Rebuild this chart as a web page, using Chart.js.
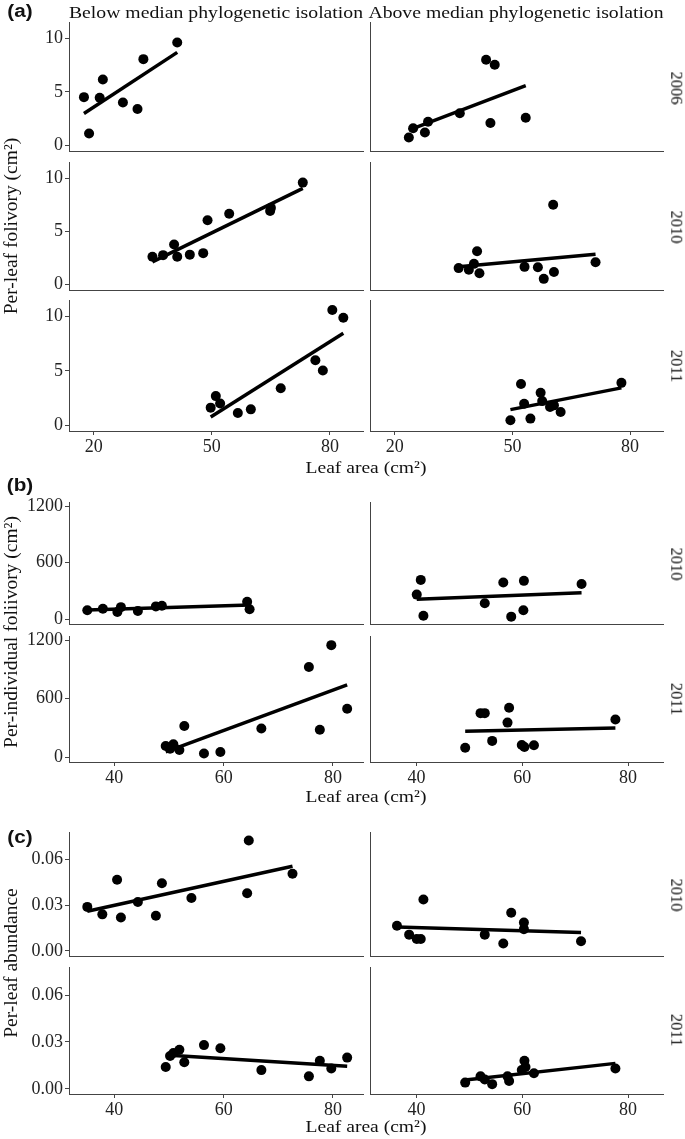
<!DOCTYPE html>
<html>
<head>
<meta charset="utf-8">
<script src="https://cdn.jsdelivr.net/npm/chart.js@4.4.1/dist/chart.umd.min.js"></script>
<style>
  html, body { margin: 0; padding: 0; background: #fff; }
  #fig { position: relative; width: 685px; height: 1139px; overflow: hidden;
         font-family: "Liberation Serif", "Times New Roman", serif; color: #111; }
  #fig canvas { position: absolute; }
  .txt { position: absolute; white-space: nowrap; line-height: 1; }
  .tag { font-family: "Liberation Sans", Arial, sans-serif; font-weight: bold; }
</style>
</head>
<body>
<div id="fig"></div>
<script>
// facet labels
const columns = ["Below median phylogenetic isolation", "Above median phylogenetic isolation"];
const yearsA = ["2006", "2010", "2011"];
const yearsBC = ["2010", "2011"];

// tick values / labels
const ticksAX = [20, 50, 80];
const ticksAY = [0, 5, 10];
const labelsAY = ["0", "5", "10"];
const ticksBCX = [40, 60, 80];
const ticksBY = [0, 600, 1200];
const labelsBY = ["0", "600", "1200"];
const ticksCY = [0, 0.03, 0.06];
const labelsCY = ["0.00", "0.03", "0.06"];

// (a) per-leaf folivory (cm²) against leaf area (cm²)
const a06LoArea = [17.5, 18.8, 21.5, 22.3, 27.4, 31.1, 32.6, 41.2];
const a06LoFol = [4.5, 1.1, 4.45, 6.15, 4.0, 3.4, 8.05, 9.6];
const a06HiArea = [23.6, 24.7, 27.7, 28.5, 36.6, 43.3, 44.4, 45.5, 53.4];
const a06HiFol = [0.73, 1.59, 1.19, 2.2, 3.0, 8.0, 2.08, 7.52, 2.57];
const a10LoArea = [34.9, 37.6, 40.4, 41.2, 44.4, 47.8, 48.9, 54.4, 64.8, 65.0, 73.1];
const a10LoFol = [2.6, 2.75, 3.76, 2.6, 2.8, 2.94, 6.03, 6.64, 6.9, 7.2, 9.58];
const a10HiArea = [36.3, 38.9, 40.2, 41.0, 41.6, 53.1, 56.5, 58.0, 60.4, 60.6, 71.2];
const a10HiFol = [1.53, 1.38, 1.93, 3.12, 1.04, 1.65, 1.62, 0.52, 7.5, 1.17, 2.08];
const a11LoArea = [49.7, 51.0, 52.1, 56.6, 59.9, 67.5, 76.3, 78.2, 80.6, 83.4];
const a11LoFol = [1.62, 2.68, 2.0, 1.13, 1.46, 3.4, 5.97, 5.03, 10.6, 9.88];
const a11HiArea = [49.5, 52.2, 53.0, 54.6, 57.2, 57.6, 59.6, 60.6, 62.3, 77.8];
const a11HiFol = [0.46, 3.8, 1.98, 0.61, 2.99, 2.22, 1.68, 1.83, 1.22, 3.9];

// (b) per-individual folivory (cm²)
const b10LoArea = [35.05, 37.9, 40.55, 41.2, 44.3, 47.6, 48.7, 64.3, 64.75];
const b10LoFol = [96, 112, 78, 129, 89, 137, 143, 187, 106];
const b10HiArea = [40.04, 40.8, 41.3, 52.9, 56.4, 57.9, 60.2, 60.3, 71.2];
const b10HiFol = [262, 418, 38, 170, 391, 28, 96, 408, 374];
const b11LoArea = [49.4, 50.2, 50.8, 51.9, 52.8, 56.4, 59.4, 66.9, 75.6, 77.6, 79.7, 82.6];
const b11LoFol = [115, 87, 132, 73, 320, 38, 52, 295, 926, 282, 1151, 498];
const b11HiArea = [49.2, 52.1, 52.9, 54.3, 57.2, 57.5, 59.9, 60.4, 62.2, 77.6];
const b11HiFol = [97, 452, 452, 167, 355, 508, 125, 104, 122, 386];

// (c) per-leaf abundance
const c10LoArea = [35.05, 37.8, 40.5, 41.2, 44.3, 47.6, 48.7, 54.1, 64.3, 64.6, 72.6];
const c10LoAbund = [0.0289, 0.024, 0.0467, 0.0219, 0.0321, 0.0231, 0.0444, 0.0347, 0.0379, 0.0724, 0.0506];
const c10HiArea = [36.3, 38.6, 40.04, 40.8, 41.3, 52.9, 56.4, 57.9, 60.3, 60.3, 71.1];
const c10HiAbund = [0.0165, 0.0107, 0.0079, 0.0079, 0.0338, 0.0107, 0.0049, 0.0251, 0.0186, 0.0143, 0.0064];
const c11LoArea = [49.4, 50.2, 50.8, 51.9, 52.8, 56.4, 59.4, 66.9, 75.6, 77.6, 79.7, 82.6];
const c11LoAbund = [0.014, 0.021, 0.023, 0.025, 0.017, 0.028, 0.026, 0.012, 0.008, 0.018, 0.013, 0.02];
const c11HiArea = [49.2, 52.1, 52.9, 54.3, 57.2, 57.5, 59.9, 60.4, 60.6, 62.2, 77.6];
const c11HiAbund = [0.004, 0.008, 0.006, 0.003, 0.008, 0.005, 0.012, 0.018, 0.014, 0.01, 0.013];

const fig = document.getElementById("fig");
const axisCol = "#444";
const tickCol = "#222";
const tickFont = { family: "'Liberation Serif', 'Times New Roman', serif", size: 18 };

// least squares fit, like geom_smooth(method = "lm")
function lsq(xs, ys) {
  const n = xs.length;
  const mx = xs.reduce((s, v) => s + v, 0) / n;
  const my = ys.reduce((s, v) => s + v, 0) / n;
  let sxy = 0, sxx = 0;
  xs.forEach((x, i) => { sxy += (x - mx) * (ys[i] - my); sxx += (x - mx) * (x - mx); });
  const b = sxy / sxx;
  return { a: my - b * mx, b };
}

function makePanel(p) {
  const padT = 8, padR = 6;
  const yW = p.yLabels ? 49 : 6;
  const xH = p.xLabels ? 30 : 2;
  const w = Math.round(p.r - p.l) + yW + padR;
  const h = Math.round(p.b - p.t) + padT + xH;
  const cv = document.createElement("canvas");
  cv.width = w; cv.height = h;
  cv.style.width = w + "px"; cv.style.height = h + "px";
  cv.style.left = (p.l - yW) + "px";
  cv.style.top = (p.t - padT) + "px";
  fig.appendChild(cv);

  const pts = p.xs.map((x, i) => ({ x, y: p.ys[i] }));
  const fit = lsq(p.xs, p.ys);
  const x0 = Math.min(...p.xs), x1 = Math.max(...p.xs);

  new Chart(cv.getContext("2d"), {
    type: "scatter",
    data: {
      datasets: [
        {
          data: [{ x: x0, y: fit.a + fit.b * x0 }, { x: x1, y: fit.a + fit.b * x1 }],
          showLine: true,
          borderColor: "#000",
          borderWidth: 3.5,
          pointRadius: 0,
          clip: false,
          order: 0,
        },
        {
          data: pts,
          backgroundColor: "#000",
          borderWidth: 0,
          pointRadius: 5,
          clip: false,
          order: 1,
        },
      ],
    },
    options: {
      responsive: false,
      animation: false,
      devicePixelRatio: 1,
      layout: { padding: { top: padT, right: padR, left: 0, bottom: 0 } },
      plugins: { legend: { display: false }, tooltip: { enabled: false } },
      events: [],
      scales: {
        x: {
          type: "linear",
          min: p.xMin,
          max: p.xMax,
          afterBuildTicks: (s) => { s.ticks = p.xTicks.map((v) => ({ value: v })); },
          afterFit: (s) => { s.height = xH; s.paddingLeft = 0; s.paddingRight = 0; },
          grid: { display: p.xLabels, drawOnChartArea: false, tickLength: 4, color: axisCol },
          border: { display: true, color: axisCol, width: 1 },
          ticks: {
            display: p.xLabels,
            font: tickFont,
            color: tickCol,
            padding: 1,
            maxRotation: 0,
            autoSkip: false,
            callback: (v) => String(v),
          },
        },
        y: {
          type: "linear",
          min: p.yMin,
          max: p.yMax,
          afterBuildTicks: (s) => { s.ticks = p.yTicks.map((v) => ({ value: v })); },
          afterFit: (s) => { s.width = yW; s.paddingTop = 0; s.paddingBottom = 0; },
          grid: { display: p.yLabels, drawOnChartArea: false, tickLength: 4, color: axisCol },
          border: { display: true, color: axisCol, width: 1 },
          ticks: {
            display: p.yLabels,
            font: tickFont,
            color: tickCol,
            padding: 2,
            autoSkip: false,
            callback: (v, i) => p.yText[i],
          },
        },
      },
    },
  });
}

function addText(str, cx, cy, size, extra) {
  const d = document.createElement("div");
  d.className = "txt" + (extra && extra.cls ? " " + extra.cls : "");
  d.textContent = str;
  d.style.fontSize = size + "px";
  d.style.left = cx + "px";
  d.style.top = cy + "px";
  const rot = extra && extra.rot ? " rotate(" + extra.rot + "deg)" : "";
  const sx = extra && extra.sx ? " scaleX(" + extra.sx + ")" : "";
  d.style.transform = "translate(-50%, -50%)" + rot + sx;
  fig.appendChild(d);
}

// geometry of the facet grid (plot area edges, px)
const colEdges = [[69, 362.7], [370, 662.7]];
const rowsA = [[22, 154], [161.7, 292.7], [300, 431.3]];
const rowsB = [[501.7, 626.7], [635.7, 761.7]];
const rowsC = [[831.7, 958.3], [967, 1093.5]];
const xRangeA = [[13.7, 88.4], [13.7, 88.4]];
const xRangeBC = [[31.7, 85.5], [31.2, 86.6]];

const sections = [
  {
    rows: rowsA, years: yearsA, xRange: xRangeA, xTicks: ticksAX,
    yMin: -0.53, yMax: 11.52, yTicks: ticksAY, yText: labelsAY,
    data: [
      [[a06LoArea, a06LoFol], [a06HiArea, a06HiFol]],
      [[a10LoArea, a10LoFol], [a10HiArea, a10HiFol]],
      [[a11LoArea, a11LoFol], [a11HiArea, a11HiFol]],
    ],
  },
  {
    rows: rowsB, years: yearsBC, xRange: xRangeBC, xTicks: ticksBCX,
    yMin: -50, yMax: 1245, yTicks: ticksBY, yText: labelsBY,
    data: [
      [[b10LoArea, b10LoFol], [b10HiArea, b10HiFol]],
      [[b11LoArea, b11LoFol], [b11HiArea, b11HiFol]],
    ],
  },
  {
    rows: rowsC, years: yearsBC, xRange: xRangeBC, xTicks: ticksBCX,
    yMin: -0.0033, yMax: 0.078, yTicks: ticksCY, yText: labelsCY,
    data: [
      [[c10LoArea, c10LoAbund], [c10HiArea, c10HiAbund]],
      [[c11LoArea, c11LoAbund], [c11HiArea, c11HiAbund]],
    ],
  },
];

sections.forEach((sec) => {
  sec.rows.forEach((row, ri) => {
    const last = ri === sec.rows.length - 1;
    colEdges.forEach((col, ci) => {
      makePanel({
        l: col[0], r: col[1], t: row[0], b: row[1],
        xMin: sec.xRange[ci][0], xMax: sec.xRange[ci][1], xTicks: sec.xTicks,
        yMin: sec.yMin, yMax: sec.yMax, yTicks: sec.yTicks, yText: sec.yText,
        xs: sec.data[ri][ci][0], ys: sec.data[ri][ci][1],
        yLabels: ci === 0, xLabels: last,
      });
    });
    addText(sec.years[ri], 676, (row[0] + row[1]) / 2, 16.5, { rot: 90, sx: 1.0 });
  });
});

// column headers
addText(columns[0], 216, 12, 17, { sx: 1.16 });
addText(columns[1], 516, 12, 17, { sx: 1.16 });

// section tags
addText("(a)", 19.5, 11, 18, { cls: "tag", sx: 1.15 });
addText("(b)", 20, 485, 18, { cls: "tag", sx: 1.15 });
addText("(c)", 20, 837, 18, { cls: "tag", sx: 1.15 });

// axis titles
addText("Per-leaf folivory (cm²)", 11, 226, 19.5, { rot: -90 });
addText("Per-individual foliivory (cm²)", 11, 632, 19.5, { rot: -90 });
addText("Per-leaf abundance", 11, 963, 19.5, { rot: -90 });
addText("Leaf area (cm²)", 365.5, 467, 17, { sx: 1.15 });
addText("Leaf area (cm²)", 365.5, 796, 17, { sx: 1.15 });
addText("Leaf area (cm²)", 365.5, 1126, 17, { sx: 1.15 });
</script>
</body>
</html>
